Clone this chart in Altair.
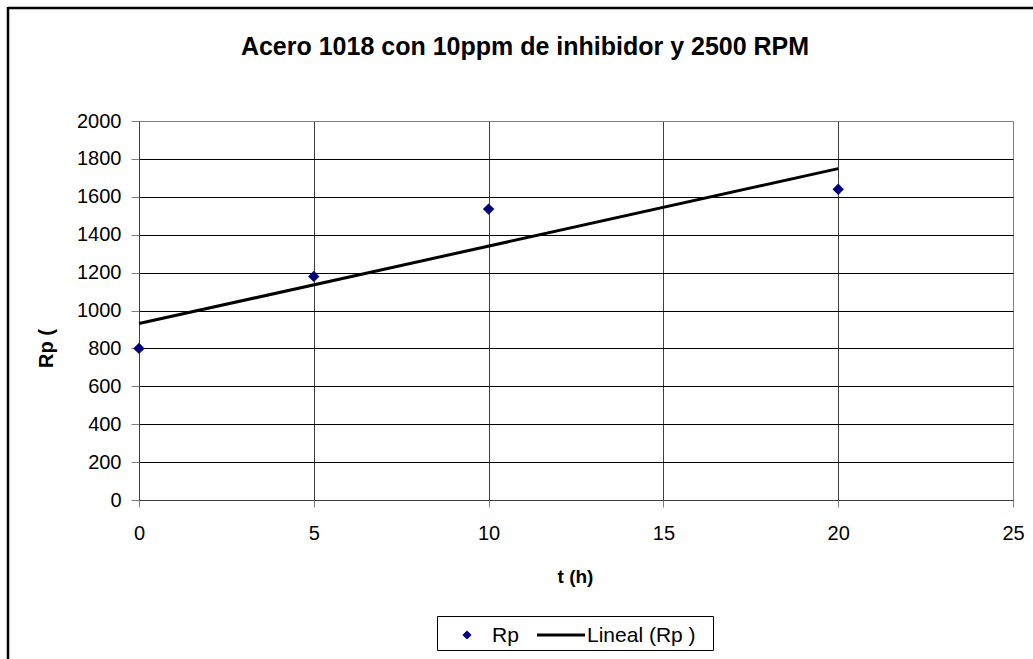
import altair as alt
import pandas as pd

# Measured polarization resistance over time
t_h = [0, 5, 10, 20]
rp_values = [800, 1180, 1535, 1640]

title_text = "Acero 1018 con 10ppm de inhibidor y 2500 RPM"
x_title = "t (h)"
y_title = "Rp ("
legend_labels = ["Rp", "Lineal (Rp )"]
x_ticks = [0, 5, 10, 15, 20, 25]
y_ticks = list(range(0, 2001, 200))

FONT = "Liberation Sans"
W, H = 874, 379

df = pd.DataFrame({"t": t_h, "rp": rp_values})
one = pd.DataFrame({"k": [0]})

x_enc = alt.X(
    "t:Q",
    scale=alt.Scale(domain=[0, 25], nice=False, zero=False),
    axis=alt.Axis(
        values=x_ticks,
        format="d",
        title=x_title,
        grid=True,
        gridColor=alt.condition("datum.value == 25", alt.value("#808080"), alt.value("#404040")),
        gridWidth=1,
        domainColor="#404040",
        tickColor="#808080",
        tickSize=7,
        labelFlush=False,
        labelPadding=16,
        labelFontSize=20,
        labelFont=FONT,
        labelColor="black",
        titleFont=FONT,
        titleFontSize=19,
        titleFontWeight="bold",
        titleColor="black",
        titleX=436,
        titleY=76,
        titleBaseline="middle",
        titleAlign="center",
    ),
)
y_enc = alt.Y(
    "rp:Q",
    scale=alt.Scale(domain=[0, 2000], nice=False),
    axis=alt.Axis(
        values=y_ticks,
        format="d",
        title=y_title,
        grid=True,
        gridColor=alt.condition("datum.value == 2000", alt.value("#808080"), alt.value("black")),
        gridWidth=1,
        domainColor="#404040",
        tickColor="#808080",
        tickSize=8,
        labelFlush=False,
        labelPadding=10,
        labelFontSize=20,
        labelFont=FONT,
        labelColor="black",
        titleFont=FONT,
        titleFontSize=20,
        titleFontWeight="bold",
        titleColor="black",
        titleAngle=270,
        titleX=-93,
        titleY=227,
        titleAlign="center",
        titleBaseline="middle",
    ),
)

# Least-squares trend over the measured range
trend = (
    alt.Chart(df)
    .transform_regression("t", "rp", extent=[0, 20])
    .mark_line(color="black", strokeWidth=3)
    .encode(x=x_enc, y=y_enc)
)

points = (
    alt.Chart(df)
    .mark_point(shape="diamond", filled=True, color="#000080", size=130, opacity=1)
    .encode(x=x_enc, y=y_enc)
)

# Chart heading
heading = alt.Chart(one).mark_text(
    align="center", baseline="middle", font=FONT, fontSize=25, fontWeight="bold", color="black"
).encode(x=alt.value(386), y=alt.value(-74), text=alt.value(title_text))

# Outer chart frame
frame_top = alt.Chart(one).mark_rule(color="black", strokeWidth=2.5).encode(
    x=alt.value(-131), x2=alt.value(900), y=alt.value(-113)
)
frame_left = alt.Chart(one).mark_rule(color="black", strokeWidth=2.5).encode(
    x=alt.value(-131), y=alt.value(-114), y2=alt.value(560)
)

# Legend box below the plot
LY = 514
leg_box = alt.Chart(one).mark_rect(fill="white", stroke="black", strokeWidth=1).encode(
    x=alt.value(298.5), x2=alt.value(574.5), y=alt.value(495.5), y2=alt.value(529.5)
)
leg_diamond = alt.Chart(one).mark_point(
    shape="diamond", filled=True, color="#000080", size=85, opacity=1
).encode(x=alt.value(328), y=alt.value(LY))
leg_rp = alt.Chart(one).mark_text(
    align="left", baseline="middle", font=FONT, fontSize=21, color="black"
).encode(x=alt.value(353), y=alt.value(LY + 1), text=alt.value(legend_labels[0]))
leg_line = alt.Chart(one).mark_rule(color="black", strokeWidth=3).encode(
    x=alt.value(398), x2=alt.value(446), y=alt.value(LY)
)
leg_lin = alt.Chart(one).mark_text(
    align="left", baseline="middle", font=FONT, fontSize=21, color="black"
).encode(x=alt.value(448), y=alt.value(LY + 1), text=alt.value(legend_labels[1]))

chart = (
    alt.layer(
        trend, points, heading, frame_top, frame_left,
        leg_box, leg_diamond, leg_rp, leg_line, leg_lin,
    )
    .properties(
        width=W,
        height=H,
        autosize="none",
        padding={"left": 139, "top": 121, "right": 20, "bottom": 159},
    )
    .configure_view(stroke="#808080", strokeWidth=1)
    .configure(background="white")
)

chart.save("out.html", embed_options={"renderer": "svg", "actions": False})
